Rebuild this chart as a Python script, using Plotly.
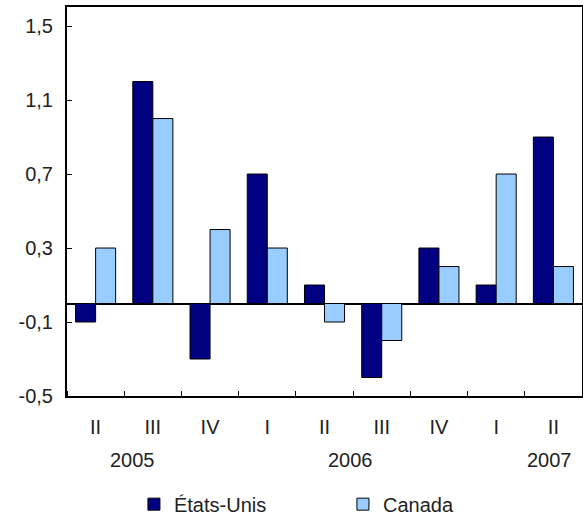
import plotly.graph_objects as go

quarters = ["II", "III", "IV", "I", "II", "III", "IV", "I", "II"]
years = ["2005", "2006", "2007"]
year_pos = [0.64, 4.45, 7.94]
etats_unis = [-0.1, 1.2, -0.3, 0.7, 0.1, -0.4, 0.3, 0.1, 0.9]
canada = [0.3, 1.0, 0.4, 0.3, -0.1, -0.2, 0.2, 0.7, 0.2]
y_ticks = [-0.5, -0.1, 0.3, 0.7, 1.1, 1.5]
y_labels = ["-0,5", "-0,1", "0,3", "0,7", "1,1", "1,5"]

x = list(range(len(quarters)))
font = dict(family="Liberation Sans, Arial, sans-serif", size=20, color="#222222")

fig = go.Figure()
fig.add_trace(go.Bar(x=x, y=etats_unis, name="États-Unis",
                     marker=dict(color="#000080", line=dict(color="black", width=1))))
fig.add_trace(go.Bar(x=x, y=canada, name="Canada",
                     marker=dict(color="#99CCFF", line=dict(color="black", width=1))))

for yr, pos in zip(years, year_pos):
    fig.add_annotation(x=pos, y=0, xref="x", yref="paper", yshift=-64,
                       text=yr, showarrow=False, font=font, yanchor="middle")

fig.update_layout(
    width=583, height=518,
    margin=dict(l=67, r=1, t=7, b=122, autoexpand=False),
    paper_bgcolor="white", plot_bgcolor="white",
    barmode="group", bargap=0.3, bargroupgap=0,
    font=font,
    showlegend=True,
    legend=dict(orientation="h", x=0.13, y=-0.278, xanchor="left", yanchor="middle",
                font=font, itemwidth=30, entrywidth=164, traceorder="normal"),
    xaxis=dict(range=[-0.5, 8.5], tickvals=x, ticktext=quarters, ticks="",
               showline=True, linecolor="black", linewidth=2, mirror=True,
               showgrid=False, zeroline=False, ticklabelstandoff=12,
               minor=dict(tick0=0.5, dtick=1, ticks="inside", ticklen=5,
                          tickcolor="black", tickwidth=1, showgrid=False)),
    yaxis=dict(range=[-0.5, 1.603], tickvals=y_ticks, ticktext=y_labels,
               ticks="inside", ticklen=5, tickcolor="black",
               showline=True, linecolor="black", linewidth=2, mirror=True,
               showgrid=False, zeroline=True, zerolinecolor="black", zerolinewidth=2,
               ticklabelstandoff=8),
)

fig.write_html("out.html")
